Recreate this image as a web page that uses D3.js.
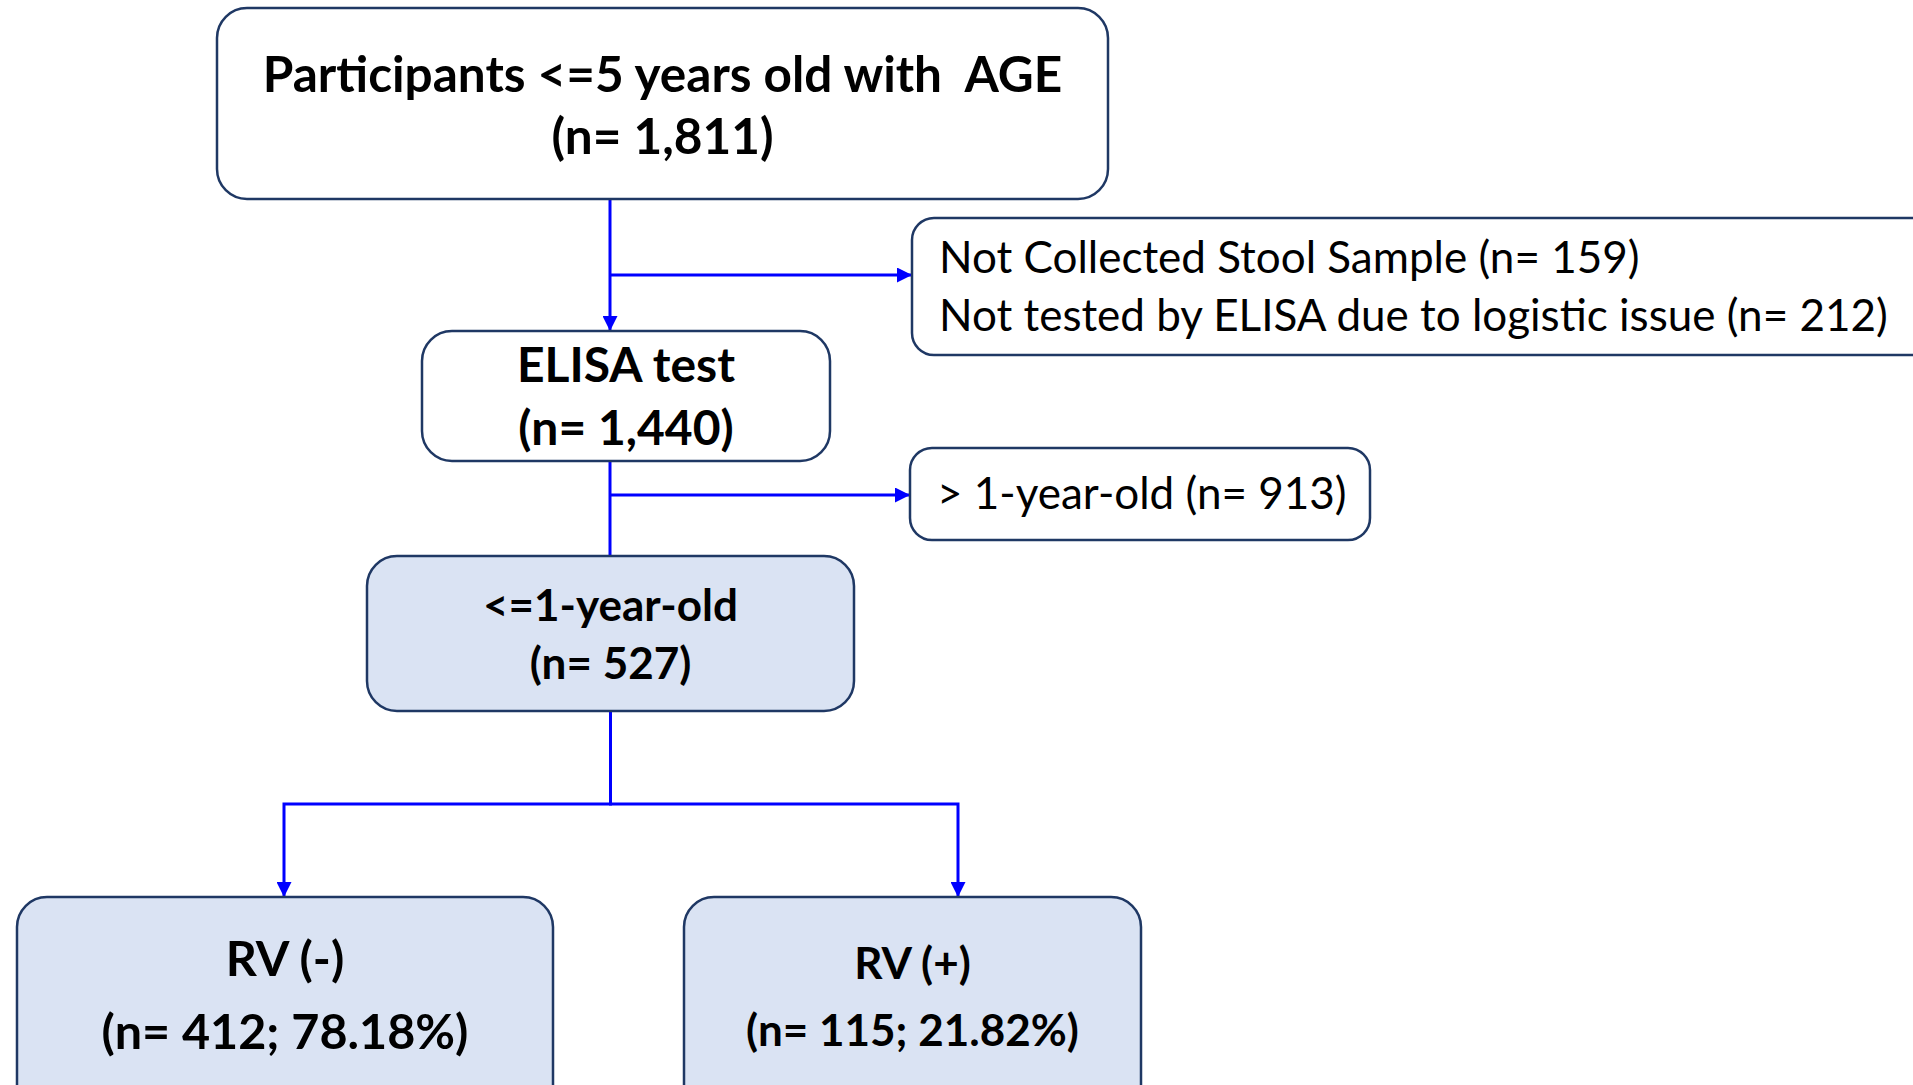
<!DOCTYPE html>
<html>
<head>
<meta charset="utf-8">
<script src="https://cdn.jsdelivr.net/npm/d3@7"></script>
<style>
  body { margin: 0; background: #fff; }
  svg { display: block; }
  .box { stroke: #1f3864; stroke-width: 2.5; }
  .link { fill: none; stroke: #0000ff; stroke-width: 3; }
  text { font-family: Lato, "Open Sans", sans-serif; fill: #000; white-space: pre; }
</style>
</head>
<body>
<div id="chart"></div>
<script>
// flowchart content
const nodeIds = ["all", "excluded", "elisa", "older", "infant", "rvNeg", "rvPos"];
const nodeTitles = [
  "Participants <=5 years old with  AGE",
  "Not Collected Stool Sample (n= 159)",
  "ELISA test",
  "> 1-year-old (n= 913)",
  "<=1-year-old",
  "RV (-)",
  "RV (+)"
];
const nodeCounts = [
  "(n= 1,811)",
  "Not tested by ELISA due to logistic issue (n= 212)",
  "(n= 1,440)",
  null,
  "(n= 527)",
  "(n= 412; 78.18%)",
  "(n= 115; 21.82%)"
];
const links = [
  ["all", "elisa", "down"],
  ["all", "excluded", "side"],
  ["elisa", "infant", "down"],
  ["elisa", "older", "side"],
  ["infant", "rvNeg", "split"],
  ["infant", "rvPos", "split"]
];

// layout (px), kept apart from the data
const layout = {
  all:      { x: 217, y: 8,   w: 891, h: 191, fill: "#fff",    size: 49.5, bold: true,  align: "middle", rows: [92, 154] },
  excluded: { x: 912, y: 218, w: 1040, h: 137, fill: "#fff",   size: 44, bold: false, align: "start",  rows: [273, 331] },
  elisa:    { x: 422, y: 331, w: 408, h: 130, fill: "#fff",    size: 48, bold: true,  align: "middle", rows: [382, 445] },
  older:    { x: 910, y: 448, w: 460, h: 92,  fill: "#fff",    size: 44, bold: false, align: "start",  rows: [509] },
  infant:   { x: 367, y: 556, w: 487, h: 155, fill: "#dae3f3", size: 44, bold: true,  align: "middle", rows: [621, 679] },
  rvNeg:    { x: 17,  y: 897, w: 536, h: 220, fill: "#dae3f3", size: 48.5, bold: true,  align: "middle", rows: [976, 1049] },
  rvPos:    { x: 684, y: 897, w: 457, h: 220, fill: "#dae3f3", size: 44, bold: true,  align: "middle", rows: [979, 1046] }
};
const trunkX = 610, sideY = { excluded: 275, older: 495 }, splitY = 804;
const branchX = { rvNeg: 284, rvPos: 958 };
const textPad = 27;

const width = 1913, height = 1085;

const svg = d3.select("#chart").append("svg")
  .attr("width", width)
  .attr("height", height);

svg.append("defs").append("marker")
  .attr("id", "arrow")
  .attr("viewBox", "0 0 10 10")
  .attr("refX", 10).attr("refY", 5)
  .attr("markerWidth", 5.5).attr("markerHeight", 5)
  .attr("markerUnits", "strokeWidth")
  .attr("orient", "auto")
  .append("path")
  .attr("d", "M0,0L10,5L0,10Z")
  .attr("fill", "#0000ff");

const nodes = nodeIds.map((id, i) => ({ id, title: nodeTitles[i], count: nodeCounts[i], ...layout[id] }));
const byId = new Map(nodes.map(d => [d.id, d]));

// connectors
const linkPath = ([from, to, kind]) => {
  const a = byId.get(from), b = byId.get(to);
  const p = d3.path();
  if (kind === "down") {
    p.moveTo(trunkX, a.y + a.h);
    p.lineTo(trunkX, b.y);
  } else if (kind === "side") {
    p.moveTo(trunkX, sideY[to]);
    p.lineTo(b.x, sideY[to]);
  } else {
    const cx = a.x + a.w / 2;
    const tx = branchX[to];
    p.moveTo(cx, a.y + a.h);
    p.lineTo(cx, splitY);
    p.lineTo(tx, splitY);
    p.lineTo(tx, b.y);
  }
  return p.toString();
};

svg.append("g")
  .selectAll("path")
  .data(links)
  .join("path")
  .attr("class", "link")
  .attr("d", linkPath)
  .attr("marker-end", d => (d[0] === "elisa" && d[2] === "down") ? null : "url(#arrow)");

// boxes
const g = svg.append("g")
  .selectAll("g")
  .data(nodes)
  .join("g");

g.append("rect")
  .attr("class", "box")
  .attr("x", d => d.x).attr("y", d => d.y)
  .attr("width", d => d.w).attr("height", d => d.h)
  .attr("rx", d => d.id === "older" || d.id === "excluded" ? 22 : 30)
  .attr("fill", d => d.fill);

g.each(function (d) {
  const lines = [d.title, d.count].filter(Boolean);
  d3.select(this).selectAll("text")
    .data(lines)
    .join("text")
    .attr("x", d.align === "middle" ? d.x + d.w / 2 : d.x + textPad)
    .attr("y", (t, i) => d.rows[i])
    .attr("text-anchor", d.align)
    .attr("font-size", d.size)
    .attr("font-weight", d.bold ? "bold" : "normal")
    .text(t => t);
});
</script>
</body>
</html>
